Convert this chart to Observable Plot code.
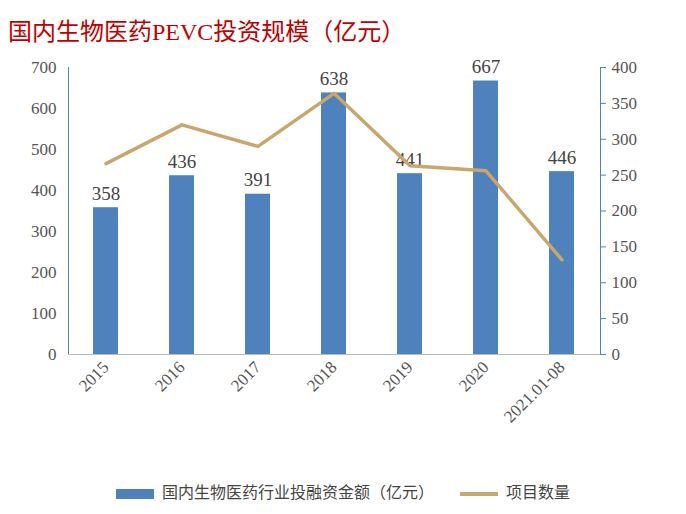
<!DOCTYPE html>
<html><head><meta charset="utf-8">
<script src="https://cdn.jsdelivr.net/npm/d3@7"></script>
<script src="https://cdn.jsdelivr.net/npm/@observablehq/plot@0.6"></script>
<style>
body{margin:0;background:#fff;font-family:"Liberation Serif","Noto Sans CJK SC",serif;}
#title{height:55px;box-sizing:border-box;padding:20px 0 0 8px;color:#c00000;font-size:24px;line-height:24px;}
#legend{display:flex;justify-content:center;gap:26px;font-size:16px;color:#444;margin-top:4px;}
.sw{display:inline-block;vertical-align:middle;margin-right:8px;}
</style></head><body>
<div id="title">国内生物医药PEVC投资规模（亿元）</div>
<div id="chart"></div>
<div id="legend"><span><span class="sw" style="width:38px;height:10px;background:#4f81bd"></span>国内生物医药行业投融资金额（亿元）</span><span><span class="sw" style="width:38px;height:4px;background:#c9a66b"></span>项目数量</span></div>
<script>
const years=["2015","2016","2017","2018","2019","2020","2021.01-08"];
const amounts=[358,436,391,638,441,667,446];
const projects=[266,320,290,364,263,256,132];
const k=700/400;
const data=years.map((y,i)=>({year:y,amount:amounts[i],proj:projects[i]*k}));
const chart=Plot.plot({
  width:686,height:420,marginTop:12,marginBottom:121,marginLeft:68,marginRight:86,
  style:{fontFamily:"Liberation Serif, serif",fontSize:"17px",color:"#555"},
  x:{domain:years,paddingInner:0.67,paddingOuter:0.335,label:null},
  y:{domain:[0,700],label:null},
  marks:[
    Plot.barY(data,{x:"year",y:"amount",fill:"#4f81bd"}),
    Plot.text(data,{x:"year",y:"amount",text:d=>d.amount,dy:-14,fontSize:19,fill:"#444"}),
    Plot.line(data,{x:"year",y:"proj",stroke:"#c9a66b",strokeWidth:3.5}),
    Plot.axisY({ticks:d3.range(0,701,100),tickSize:0,tickPadding:12,label:null,fontSize:17}),
    Plot.axisY({anchor:"right",ticks:d3.range(0,401,50).map(v=>v*k),tickFormat:d=>Math.round(d/k),tickSize:5,stroke:"#4f81bd",tickPadding:6,label:null,fontSize:17}),
    Plot.frame({anchor:"left",stroke:"#4f81bd"}),
    Plot.frame({anchor:"right",stroke:"#4f81bd"}),
    Plot.ruleY([0],{stroke:"#bbb"}),
    Plot.axisX({tickSize:0,tickRotate:-45,tickPadding:10,label:null,fontSize:17,textAnchor:"end"})
  ]
});
document.getElementById("chart").appendChild(chart);
</script></body></html>
